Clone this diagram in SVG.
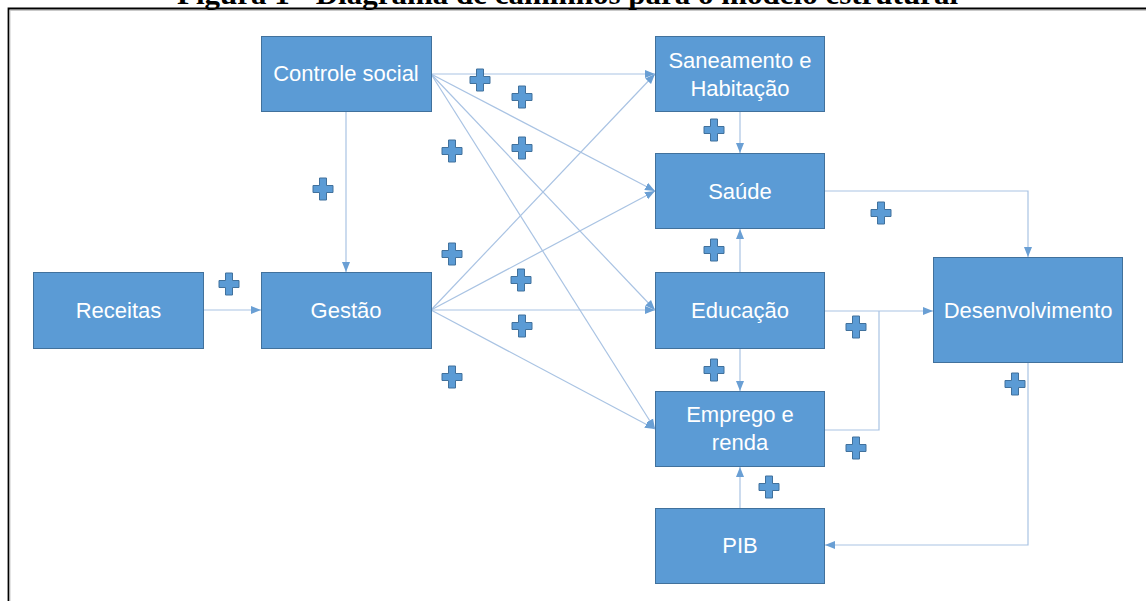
<svg xmlns="http://www.w3.org/2000/svg" width="1146" height="601" viewBox="0 0 1146 601">
<style>
.box{fill:#5B9BD5;stroke:#41719C;stroke-width:1}
.lbl{font-family:"Liberation Sans",Arial,sans-serif;font-size:22px;fill:#FFFFFF;text-anchor:middle}
.con{fill:none;stroke:#A9C3E3;stroke-width:1.2}
.arr{marker-end:url(#ah)}
.plus{fill:#5B9BD5;stroke:#41719C;stroke-width:1}
.title{font-family:"Liberation Serif","Times New Roman",serif;font-weight:bold;font-size:30px;fill:#000}
</style>
<defs>
<marker id="ah" markerUnits="userSpaceOnUse" markerWidth="10" markerHeight="10" viewBox="0 0 10 10" refX="10" refY="5" orient="auto">
<path d="M0,1 L10,5 L0,9 Z" fill="#6A9FD4"/>
</marker>
<path id="pl" d="M-3.5,-11 H3.5 V-3.5 H10 V3.5 H3.5 V11 H-3.5 V3.5 H-10 V-3.5 H-3.5 Z"/>
</defs>
<rect width="1146" height="601" fill="#FFFFFF"/>
<text class="title" x="177" y="4" textLength="781" lengthAdjust="spacingAndGlyphs">Figura 1 - Diagrama de caminhos para o modelo estrutural</text>
<path d="M8.5,601 V8.5 H1146" fill="none" stroke="#000" stroke-width="1.8"/>
<path d="M10,601 V10.5 H1146" fill="none" stroke="#BBBBBB" stroke-width="0.8"/>

<g id="connectors">
<path class="con arr" d="M203,310 H261"/>
<path class="con arr" d="M346,112 V272"/>
<path class="con arr" d="M431,74 H655"/>
<path class="con arr" d="M431,74 L655,191"/>
<path class="con arr" d="M431,74 L655,310"/>
<path class="con arr" d="M431,74 L655,429"/>
<path class="con arr" d="M431,310 L655,74"/>
<path class="con arr" d="M431,310 L655,191"/>
<path class="con arr" d="M431,310 H655"/>
<path class="con arr" d="M431,310 L655,429"/>
<path class="con arr" d="M740,112 V153"/>
<path class="con arr" d="M740,272 V229"/>
<path class="con arr" d="M740,348 V391"/>
<path class="con arr" d="M740,508 V467"/>
<path class="con arr" d="M825,191 H1028 V257"/>
<path class="con arr" d="M825,311 H933"/>
<path class="con" d="M825,430 H879 V311"/>
<path class="con arr" d="M1028,363 V545 H825"/>
</g>

<g id="receitas"><rect class="box" x="33.5" y="272.5" width="170" height="76"/><text class="lbl" x="118.5" y="318">Receitas</text></g>
<g id="controle-social"><rect class="box" x="261.5" y="36.5" width="170" height="75"/><text class="lbl" x="346" y="81">Controle social</text></g>
<g id="gestao"><rect class="box" x="261.5" y="272.5" width="170" height="76"/><text class="lbl" x="346" y="318">Gestão</text></g>
<g id="saneamento"><rect class="box" x="655.5" y="36.5" width="169" height="75"/><text class="lbl" x="740" y="68">Saneamento e</text><text class="lbl" x="740" y="96">Habitação</text></g>
<g id="saude"><rect class="box" x="655.5" y="153.5" width="169" height="75"/><text class="lbl" x="740" y="199">Saúde</text></g>
<g id="educacao"><rect class="box" x="655.5" y="272.5" width="169" height="76"/><text class="lbl" x="740" y="318">Educação</text></g>
<g id="emprego"><rect class="box" x="655.5" y="391.5" width="169" height="75"/><text class="lbl" x="740" y="422">Emprego e</text><text class="lbl" x="740" y="450">renda</text></g>
<g id="pib"><rect class="box" x="655.5" y="508.5" width="169" height="75"/><text class="lbl" x="740" y="553">PIB</text></g>
<g id="desenvolvimento"><rect class="box" x="933.5" y="257.5" width="189" height="105"/><text class="lbl" x="1028" y="318">Desenvolvimento</text></g>

<g id="signs">
<use class="plus" href="#pl" x="480" y="80"/>
<use class="plus" href="#pl" x="522" y="97"/>
<use class="plus" href="#pl" x="452" y="151"/>
<use class="plus" href="#pl" x="522" y="148"/>
<use class="plus" href="#pl" x="323" y="189"/>
<use class="plus" href="#pl" x="452" y="254"/>
<use class="plus" href="#pl" x="521" y="280"/>
<use class="plus" href="#pl" x="522" y="326"/>
<use class="plus" href="#pl" x="452" y="377"/>
<use class="plus" href="#pl" x="229" y="284"/>
<use class="plus" href="#pl" x="714" y="130"/>
<use class="plus" href="#pl" x="714" y="250"/>
<use class="plus" href="#pl" x="714" y="370"/>
<use class="plus" href="#pl" x="881" y="213"/>
<use class="plus" href="#pl" x="856" y="327"/>
<use class="plus" href="#pl" x="856" y="448"/>
<use class="plus" href="#pl" x="769" y="487"/>
<use class="plus" href="#pl" x="1015" y="384"/>
</g>
</svg>
